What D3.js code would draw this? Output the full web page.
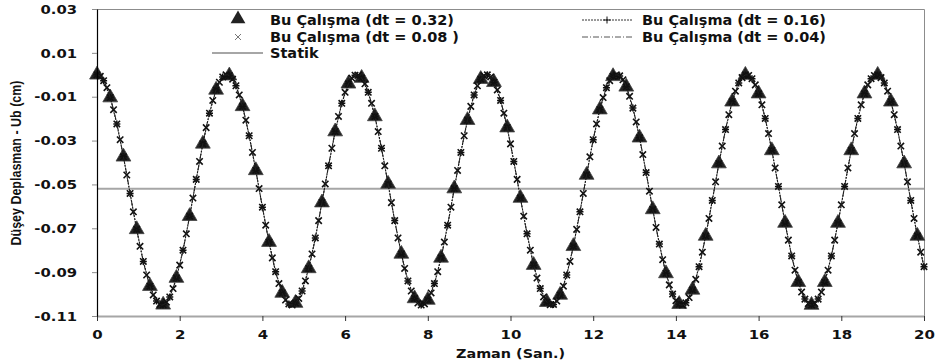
<!DOCTYPE html>
<html lang="tr">
<head>
<meta charset="UTF-8">
<title>Düşey Deplasman - Zaman</title>
<script src="https://d3js.org/d3.v7.min.js"></script>
<style>
  body { margin: 0; background: #fff; }
  svg { display: block; font-family: "DejaVu Sans", Verdana, sans-serif; font-weight: bold; }
</style>
</head>
<body>
<svg width="939" height="363"></svg>
<script>
// time steps of each run (s)
const dt032 = 0.32, dt016 = 0.16, dt008 = 0.08, dt004 = 0.04;

// vertical displacement Ub (cm)
const uDt032 = [
  0, -0.0104, -0.0374, -0.0705, -0.0964, -0.1049, -0.0927, -0.0645, -0.0315, -0.0069,
  -0.0004, -0.0144, -0.0436, -0.0763, -0.0995, -0.1041, -0.0883, -0.0583, -0.0259, -0.0041,
  -0.0015, -0.0190, -0.0498, -0.0817, -0.1020, -0.1027, -0.0835, -0.0519, -0.0207, -0.0020,
  -0.0034, -0.0241, -0.0562, -0.0868, -0.1037, -0.1004, -0.0782, -0.0457, -0.0159, -0.0007,
  -0.0055, -0.0287, -0.0614, -0.0906, -0.1046, -0.0981, -0.0735, -0.0405, -0.0123, -0.0001,
  -0.0086, -0.0345, -0.0676, -0.0946, -0.1050, -0.0946, -0.0676, -0.0345, -0.0086, -0.0001,
  -0.0123, -0.0405, -0.0735
];

const uDt016 = [
  0, -0.0027, -0.0104, -0.0224, -0.0374, -0.0541, -0.0705, -0.0851, -0.0964, -0.1032,
  -0.1049, -0.1013, -0.0927, -0.0800, -0.0645, -0.0477, -0.0315, -0.0175, -0.0069, -0.0010,
  -0.0004, -0.0050, -0.0144, -0.0278, -0.0436, -0.0604, -0.0763, -0.0898, -0.0995, -0.1045,
  -0.1041, -0.0986, -0.0883, -0.0744, -0.0583, -0.0415, -0.0259, -0.0130, -0.0041, -0.0002,
  -0.0015, -0.0080, -0.0190, -0.0335, -0.0498, -0.0665, -0.0817, -0.0940, -0.1020, -0.1050,
  -0.1027, -0.0952, -0.0835, -0.0686, -0.0519, -0.0354, -0.0207, -0.0092, -0.0020, 0,
  -0.0034, -0.0117, -0.0241, -0.0395, -0.0562, -0.0725, -0.0868, -0.0975, -0.1037, -0.1047,
  -0.1004, -0.0913, -0.0782, -0.0625, -0.0457, -0.0296, -0.0159, -0.0059, -0.0007, -0.0005,
  -0.0055, -0.0152, -0.0287, -0.0446, -0.0614, -0.0772, -0.0906, -0.1000, -0.1046, -0.1040,
  -0.0981, -0.0875, -0.0735, -0.0573, -0.0405, -0.0250, -0.0123, -0.0037, -0.0001, -0.0018,
  -0.0086, -0.0199, -0.0345, -0.0509, -0.0676, -0.0826, -0.0946, -0.1023, -0.1050, -0.1023,
  -0.0946, -0.0826, -0.0676, -0.0509, -0.0345, -0.0199, -0.0086, -0.0018, -0.0001, -0.0037,
  -0.0123, -0.0250, -0.0405, -0.0573, -0.0735, -0.0875
];

const uDt008 = [
  0, -0.0007, -0.0027, -0.0059, -0.0104, -0.0159, -0.0224, -0.0296, -0.0374, -0.0457,
  -0.0541, -0.0625, -0.0705, -0.0782, -0.0851, -0.0913, -0.0964, -0.1004, -0.1032, -0.1047,
  -0.1049, -0.1037, -0.1013, -0.0975, -0.0927, -0.0868, -0.0800, -0.0725, -0.0645, -0.0562,
  -0.0477, -0.0395, -0.0315, -0.0241, -0.0175, -0.0117, -0.0069, -0.0034, -0.0010, 0,
  -0.0004, -0.0020, -0.0050, -0.0092, -0.0144, -0.0207, -0.0278, -0.0354, -0.0436, -0.0519,
  -0.0604, -0.0686, -0.0763, -0.0835, -0.0898, -0.0952, -0.0995, -0.1027, -0.1045, -0.1050,
  -0.1041, -0.1020, -0.0986, -0.0940, -0.0883, -0.0817, -0.0744, -0.0665, -0.0583, -0.0498,
  -0.0415, -0.0335, -0.0259, -0.0190, -0.0130, -0.0080, -0.0041, -0.0015, -0.0002, -0.0002,
  -0.0015, -0.0041, -0.0080, -0.0130, -0.0190, -0.0259, -0.0335, -0.0415, -0.0498, -0.0583,
  -0.0665, -0.0744, -0.0817, -0.0883, -0.0940, -0.0986, -0.1020, -0.1041, -0.1050, -0.1045,
  -0.1027, -0.0995, -0.0952, -0.0898, -0.0835, -0.0763, -0.0686, -0.0604, -0.0519, -0.0436,
  -0.0354, -0.0278, -0.0207, -0.0144, -0.0092, -0.0050, -0.0020, -0.0004, 0, -0.0010,
  -0.0034, -0.0069, -0.0117, -0.0175, -0.0241, -0.0315, -0.0395, -0.0477, -0.0562, -0.0645,
  -0.0725, -0.0800, -0.0868, -0.0927, -0.0975, -0.1013, -0.1037, -0.1049, -0.1047, -0.1032,
  -0.1004, -0.0964, -0.0913, -0.0851, -0.0782, -0.0705, -0.0625, -0.0541, -0.0457, -0.0374,
  -0.0296, -0.0224, -0.0159, -0.0104, -0.0059, -0.0027, -0.0007, 0, -0.0005, -0.0023,
  -0.0055, -0.0098, -0.0152, -0.0215, -0.0287, -0.0364, -0.0446, -0.0531, -0.0614, -0.0696,
  -0.0772, -0.0843, -0.0906, -0.0958, -0.1000, -0.1030, -0.1046, -0.1050, -0.1040, -0.1016,
  -0.0981, -0.0933, -0.0875, -0.0809, -0.0735, -0.0655, -0.0573, -0.0488, -0.0405, -0.0325,
  -0.0250, -0.0182, -0.0123, -0.0075, -0.0037, -0.0013, -0.0001, -0.0003, -0.0018, -0.0046,
  -0.0086, -0.0137, -0.0199, -0.0268, -0.0345, -0.0425, -0.0509, -0.0593, -0.0676, -0.0754,
  -0.0826, -0.0891, -0.0946, -0.0991, -0.1023, -0.1043, -0.1050, -0.1043, -0.1023, -0.0991,
  -0.0946, -0.0891, -0.0826, -0.0754, -0.0676, -0.0593, -0.0509, -0.0425, -0.0345, -0.0268,
  -0.0199, -0.0137, -0.0086, -0.0046, -0.0018, -0.0003, -0.0001, -0.0013, -0.0037, -0.0075,
  -0.0123, -0.0182, -0.0250, -0.0325, -0.0405, -0.0488, -0.0573, -0.0655, -0.0735, -0.0809,
  -0.0875
];

const uDt004 = [
  0, -0.0002, -0.0007, -0.0015, -0.0027, -0.0041, -0.0059, -0.0080, -0.0104, -0.0130,
  -0.0159, -0.0190, -0.0224, -0.0259, -0.0296, -0.0335, -0.0374, -0.0415, -0.0457, -0.0498,
  -0.0541, -0.0583, -0.0625, -0.0665, -0.0705, -0.0744, -0.0782, -0.0817, -0.0851, -0.0883,
  -0.0913, -0.0940, -0.0964, -0.0986, -0.1004, -0.1020, -0.1032, -0.1041, -0.1047, -0.1050,
  -0.1049, -0.1045, -0.1037, -0.1027, -0.1013, -0.0995, -0.0975, -0.0952, -0.0927, -0.0898,
  -0.0868, -0.0835, -0.0800, -0.0763, -0.0725, -0.0686, -0.0645, -0.0604, -0.0562, -0.0519,
  -0.0477, -0.0436, -0.0395, -0.0354, -0.0315, -0.0278, -0.0241, -0.0207, -0.0175, -0.0144,
  -0.0117, -0.0092, -0.0069, -0.0050, -0.0034, -0.0020, -0.0010, -0.0004, 0, 0,
  -0.0004, -0.0010, -0.0020, -0.0034, -0.0050, -0.0069, -0.0092, -0.0117, -0.0144, -0.0175,
  -0.0207, -0.0241, -0.0278, -0.0315, -0.0354, -0.0395, -0.0436, -0.0477, -0.0519, -0.0562,
  -0.0604, -0.0645, -0.0686, -0.0725, -0.0763, -0.0800, -0.0835, -0.0868, -0.0898, -0.0927,
  -0.0952, -0.0975, -0.0995, -0.1013, -0.1027, -0.1037, -0.1045, -0.1049, -0.1050, -0.1047,
  -0.1041, -0.1032, -0.1020, -0.1004, -0.0986, -0.0964, -0.0940, -0.0913, -0.0883, -0.0851,
  -0.0817, -0.0782, -0.0744, -0.0705, -0.0665, -0.0625, -0.0583, -0.0541, -0.0498, -0.0457,
  -0.0415, -0.0374, -0.0335, -0.0296, -0.0259, -0.0224, -0.0190, -0.0159, -0.0130, -0.0104,
  -0.0080, -0.0059, -0.0041, -0.0027, -0.0015, -0.0007, -0.0002, 0, -0.0002, -0.0007,
  -0.0015, -0.0027, -0.0041, -0.0059, -0.0080, -0.0104, -0.0130, -0.0159, -0.0190, -0.0224,
  -0.0259, -0.0296, -0.0335, -0.0374, -0.0415, -0.0457, -0.0498, -0.0541, -0.0583, -0.0625,
  -0.0665, -0.0705, -0.0744, -0.0782, -0.0817, -0.0851, -0.0883, -0.0913, -0.0940, -0.0964,
  -0.0986, -0.1004, -0.1020, -0.1032, -0.1041, -0.1047, -0.1050, -0.1049, -0.1045, -0.1037,
  -0.1027, -0.1013, -0.0995, -0.0975, -0.0952, -0.0927, -0.0898, -0.0868, -0.0835, -0.0800,
  -0.0763, -0.0725, -0.0686, -0.0645, -0.0604, -0.0562, -0.0519, -0.0477, -0.0436, -0.0395,
  -0.0354, -0.0315, -0.0278, -0.0241, -0.0207, -0.0175, -0.0144, -0.0117, -0.0092, -0.0069,
  -0.0050, -0.0034, -0.0020, -0.0010, -0.0004, 0, 0, -0.0004, -0.0010, -0.0020,
  -0.0034, -0.0050, -0.0069, -0.0092, -0.0117, -0.0144, -0.0175, -0.0207, -0.0241, -0.0278,
  -0.0315, -0.0354, -0.0395, -0.0436, -0.0477, -0.0519, -0.0562, -0.0604, -0.0645, -0.0686,
  -0.0725, -0.0763, -0.0800, -0.0835, -0.0868, -0.0898, -0.0927, -0.0952, -0.0975, -0.0995,
  -0.1013, -0.1027, -0.1037, -0.1045, -0.1049, -0.1050, -0.1047, -0.1041, -0.1032, -0.1020,
  -0.1004, -0.0986, -0.0964, -0.0940, -0.0913, -0.0883, -0.0851, -0.0817, -0.0782, -0.0744,
  -0.0705, -0.0665, -0.0625, -0.0583, -0.0541, -0.0498, -0.0457, -0.0415, -0.0374, -0.0335,
  -0.0296, -0.0259, -0.0224, -0.0190, -0.0159, -0.0130, -0.0104, -0.0080, -0.0059, -0.0041,
  -0.0027, -0.0015, -0.0007, -0.0002, 0, -0.0001, -0.0005, -0.0013, -0.0023, -0.0037,
  -0.0055, -0.0075, -0.0098, -0.0123, -0.0152, -0.0182, -0.0215, -0.0250, -0.0287, -0.0325,
  -0.0364, -0.0405, -0.0446, -0.0488, -0.0531, -0.0573, -0.0614, -0.0655, -0.0696, -0.0735,
  -0.0772, -0.0809, -0.0843, -0.0875, -0.0906, -0.0933, -0.0958, -0.0981, -0.1000, -0.1016,
  -0.1030, -0.1040, -0.1046, -0.1050, -0.1050, -0.1046, -0.1040, -0.1030, -0.1016, -0.1000,
  -0.0981, -0.0958, -0.0933, -0.0906, -0.0875, -0.0843, -0.0809, -0.0772, -0.0735, -0.0696,
  -0.0655, -0.0614, -0.0573, -0.0531, -0.0488, -0.0446, -0.0405, -0.0364, -0.0325, -0.0287,
  -0.0250, -0.0215, -0.0182, -0.0152, -0.0123, -0.0098, -0.0075, -0.0055, -0.0037, -0.0023,
  -0.0013, -0.0005, -0.0001, 0, -0.0003, -0.0009, -0.0018, -0.0030, -0.0046, -0.0064,
  -0.0086, -0.0110, -0.0137, -0.0167, -0.0199, -0.0233, -0.0268, -0.0306, -0.0345, -0.0385,
  -0.0425, -0.0467, -0.0509, -0.0552, -0.0593, -0.0635, -0.0676, -0.0715, -0.0754, -0.0791,
  -0.0826, -0.0860, -0.0891, -0.0920, -0.0946, -0.0970, -0.0991, -0.1009, -0.1023, -0.1035,
  -0.1043, -0.1048, -0.1050, -0.1048, -0.1043, -0.1035, -0.1023, -0.1009, -0.0991, -0.0970,
  -0.0946, -0.0920, -0.0891, -0.0860, -0.0826, -0.0791, -0.0754, -0.0715, -0.0676, -0.0635,
  -0.0593, -0.0552, -0.0509, -0.0467, -0.0425, -0.0385, -0.0345, -0.0306, -0.0268, -0.0233,
  -0.0199, -0.0167, -0.0137, -0.0110, -0.0086, -0.0064, -0.0046, -0.0030, -0.0018, -0.0009,
  -0.0003, 0, -0.0001, -0.0005, -0.0013, -0.0023, -0.0037, -0.0055, -0.0075, -0.0098,
  -0.0123, -0.0152, -0.0182, -0.0215, -0.0250, -0.0287, -0.0325, -0.0364, -0.0405, -0.0446,
  -0.0488, -0.0531, -0.0573, -0.0614, -0.0655, -0.0696, -0.0735, -0.0772, -0.0809, -0.0843,
  -0.0875
];

const staticU = -0.052;

const xTicks = [0, 2, 4, 6, 8, 10, 12, 14, 16, 18, 20];
const yTicks = [0.03, 0.01, -0.01, -0.03, -0.05, -0.07, -0.09, -0.11];

const label032 = "Bu Çalışma (dt = 0.32)";
const label016 = "Bu Çalışma (dt = 0.16)";
const label008 = "Bu Çalışma (dt = 0.08 )";
const label004 = "Bu Çalışma (dt = 0.04)";
const labelStatic = "Statik";
const xTitle = "Zaman (San.)";
const yTitle = "Düşey Deplasman - Ub (cm)";

// ---------------------------------------------------------------

const width = 939, height = 363;
const margin = {top: 9, right: 15, bottom: 47, left: 97};
const svg = d3.select("svg");

const x = d3.scaleLinear().domain([0, 20]).range([margin.left, width - margin.right]);
const y = d3.scaleLinear().domain([-0.11, 0.03]).range([height - margin.bottom, margin.top]);

const toPoints = (vals, dt) => vals.map((v, i) => ({t: +(i * dt).toFixed(2), u: v}));

const pts032 = toPoints(uDt032, dt032);
const pts016 = toPoints(uDt016, dt016);
const pts008 = toPoints(uDt008, dt008);
const pts004 = toPoints(uDt004, dt004);

const line = d3.line().x(d => x(d.t)).y(d => y(d.u));

const crossPath = s => `M${-s},${-s}L${s},${s}M${-s},${s}L${s},${-s}`;
const plusPath = s => `M${-s},0H${s}M0,${-s}V${s}`;
const triPath = d3.symbol(d3.symbolTriangle).size(95)();

// widen bold text a little, the source font runs wider than DejaVu
function stretch(sel, k) {
  sel.each(function () {
    const w = this.getComputedTextLength();
    d3.select(this).attr("textLength", w * k).attr("lengthAdjust", "spacingAndGlyphs");
  });
}

// frame (top and right)
svg.append("path")
  .attr("d", `M${x(0)},${y(0.03) + 0.5}H${x(20) + 0.5}V${y(-0.11)}`)
  .attr("fill", "none")
  .attr("stroke", "#8c8c8c")
  .attr("stroke-width", 1);

// static line
svg.append("line")
  .attr("x1", x(0)).attr("x2", x(20))
  .attr("y1", y(staticU)).attr("y2", y(staticU))
  .attr("stroke", "#a6a6a6")
  .attr("stroke-width", 2);

// dt = 0.32 : triangles
svg.append("g").selectAll("path")
  .data(pts032)
  .join("path")
  .attr("d", triPath)
  .attr("transform", d => `translate(${x(d.t)},${y(d.u)})`)
  .attr("fill", "#222")
  .attr("stroke", "#444")
  .attr("stroke-width", 0.8);

// dt = 0.16 : dotted line with + markers
svg.append("path")
  .datum(pts016)
  .attr("d", line)
  .attr("fill", "none")
  .attr("stroke", "#111")
  .attr("stroke-width", 1.1)
  .attr("stroke-dasharray", "2,1");

svg.append("g").selectAll("path")
  .data(pts016)
  .join("path")
  .attr("d", plusPath(3.5))
  .attr("transform", d => `translate(${x(d.t)},${y(d.u)})`)
  .attr("stroke", "#111")
  .attr("stroke-width", 1.5);

// dt = 0.08 : x markers
svg.append("g").selectAll("path")
  .data(pts008)
  .join("path")
  .attr("d", crossPath(3.2))
  .attr("transform", d => `translate(${x(d.t)},${y(d.u)})`)
  .attr("stroke", "#111")
  .attr("stroke-width", 1.6);

// dt = 0.04 : dash-dot line
svg.append("path")
  .datum(pts004)
  .attr("d", line)
  .attr("fill", "none")
  .attr("stroke", "#222")
  .attr("stroke-width", 1)
  .attr("stroke-dasharray", "6,2,1,2");

// X axis
const gx = svg.append("g")
  .attr("transform", `translate(0,${y(-0.11)})`)
  .call(d3.axisBottom(x).tickValues(xTicks).tickSizeInner(5).tickSizeOuter(0).tickPadding(9));
gx.attr("font-family", null).attr("font-size", null);
gx.select(".domain").attr("stroke", "#a6a6a6").attr("stroke-width", 2);
gx.selectAll(".tick line").attr("stroke", "#333");
gx.selectAll("text")
  .attr("font-size", 13)
  .attr("fill", "#111")
  .call(stretch, 1.15);

// Y axis
const gy = svg.append("g")
  .attr("transform", `translate(${x(0)},0)`)
  .call(d3.axisLeft(y).tickValues(yTicks).tickFormat(d => d.toFixed(2))
    .tickSizeInner(5).tickSizeOuter(0).tickPadding(15));
gy.attr("font-family", null).attr("font-size", null);
gy.select(".domain").attr("stroke", "#000").attr("stroke-width", 1.2);
gy.selectAll(".tick line").attr("stroke", "#8c8c8c");
gy.selectAll("text")
  .attr("font-size", 13)
  .attr("fill", "#111")
  .call(stretch, 1.14);

// axis titles
svg.append("text")
  .attr("x", (x(0) + x(20)) / 2)
  .attr("y", 358)
  .attr("text-anchor", "middle")
  .attr("font-size", 13)
  .attr("fill", "#111")
  .attr("textLength", 109)
  .attr("lengthAdjust", "spacingAndGlyphs")
  .text(xTitle);

svg.append("text")
  .attr("transform", "translate(21,163) rotate(-90)")
  .attr("text-anchor", "middle")
  .attr("font-family", "'Liberation Sans Narrow', 'Liberation Sans', Arial, sans-serif")
  .attr("font-size", 14)
  .attr("textLength", 165)
  .attr("lengthAdjust", "spacingAndGlyphs")
  .attr("fill", "#111")
  .text(yTitle);

// legend
const legend = svg.append("g").attr("font-size", 14.5).attr("fill", "#111");

legend.append("path").attr("d", triPath).attr("transform", "translate(238,19)").attr("fill", "#222");
legend.append("text").attr("x", 270).attr("y", 25).text(label032);

legend.append("path")
  .attr("d", crossPath(3))
  .attr("transform", "translate(238,37)")
  .attr("stroke", "#777").attr("stroke-width", 1);
legend.append("text").attr("x", 270).attr("y", 42).text(label008);

legend.append("line")
  .attr("x1", 212).attr("x2", 263).attr("y1", 53).attr("y2", 53)
  .attr("stroke", "#a6a6a6").attr("stroke-width", 2);
legend.append("text").attr("x", 270).attr("y", 58).text(labelStatic);

legend.append("line")
  .attr("x1", 582).attr("x2", 633).attr("y1", 20).attr("y2", 20)
  .attr("stroke", "#333").attr("stroke-width", 1).attr("stroke-dasharray", "2,1");
legend.append("path")
  .attr("d", plusPath(3.5))
  .attr("transform", "translate(607,20)")
  .attr("stroke", "#111").attr("stroke-width", 1);
legend.append("text").attr("x", 642).attr("y", 25).text(label016);

legend.append("line")
  .attr("x1", 582).attr("x2", 633).attr("y1", 37).attr("y2", 37)
  .attr("stroke", "#555").attr("stroke-width", 1).attr("stroke-dasharray", "6,2,1,2");
legend.append("text").attr("x", 642).attr("y", 42).text(label004);
</script>
</body>
</html>
